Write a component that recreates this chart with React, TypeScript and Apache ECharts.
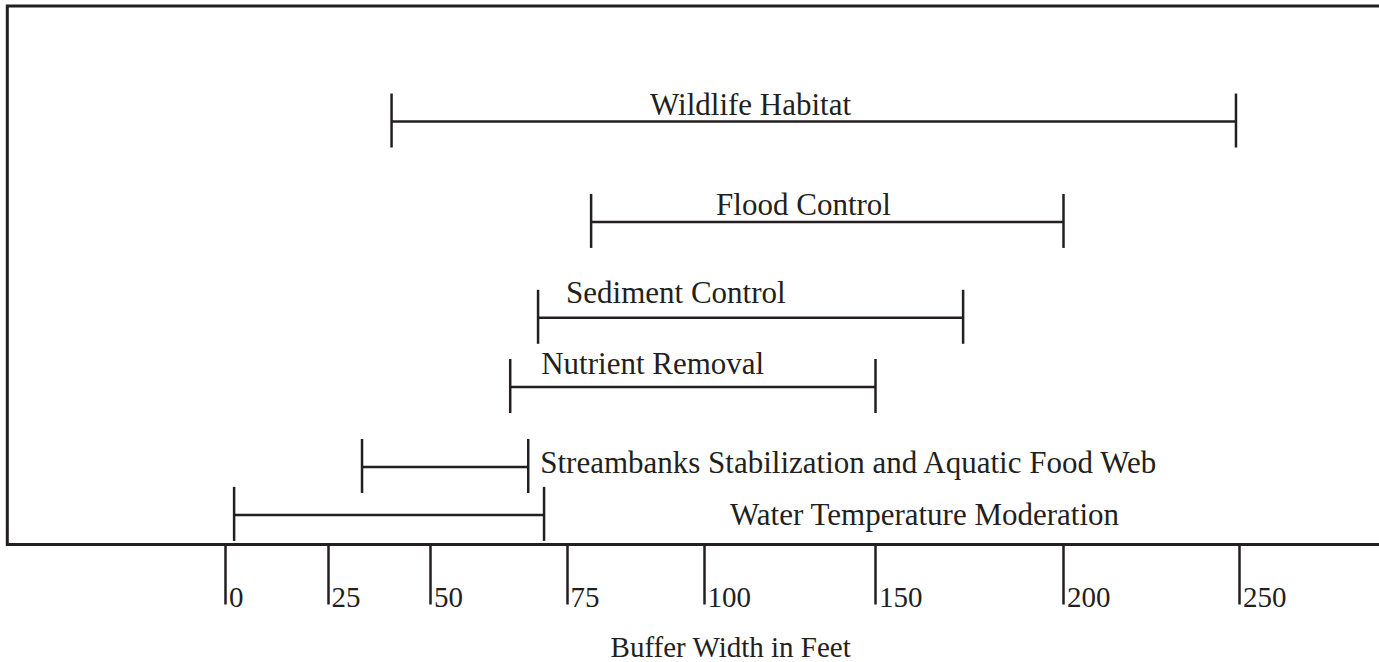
import React, { useEffect, useRef } from "react";
import * as echarts from "echarts";

// ---- data ----
const categories = [
  "Wildlife Habitat",
  "Flood Control",
  "Sediment Control",
  "Nutrient Removal",
  "Streambanks Stabilization and Aquatic Food Web",
  "Water Temperature Moderation",
];
const startFeet = [40.5, 79.4, 69.7, 64.6, 33.3, 2.1];
const endFeet = [249, 200, 173.3, 150, 67.9, 70.8];
// vertical lane of each range (0 = bottom of plot, 100 = top)
const lane = [78.55, 59.9, 42.1, 29.25, 14.4, 5.5];

const tickFeet = [0, 25, 50, 75, 100, 150, 200, 250];
const tickLabels = ["0", "25", "50", "75", "100", "150", "200", "250"];
// the printed scale is uneven: axis units of each tick
const tickSlot = [0, 102.5, 205, 341.5, 478.5, 650, 838, 1014];

// ---- layout / style config ----
const labelLayout = [
  { from: "start", dx: 258.5, dy: -17.5 },
  { from: "start", dx: 125, dy: -17 },
  { from: "start", dx: 28, dy: -25 },
  { from: "start", dx: 31, dy: -23 },
  { from: "end", dx: 12, dy: -4.5 },
  { from: "end", dx: 186, dy: -0.5 },
];
const INK = "#231f20";
const SERIF = "'Liberation Serif', 'DejaVu Serif', serif";

function warp(ft: number): number {
  const n = tickFeet.length;
  let i = 0;
  if (ft <= tickFeet[0]) i = 0;
  else if (ft >= tickFeet[n - 1]) i = n - 2;
  else {
    while (i < n - 2 && ft > tickFeet[i + 1]) i++;
  }
  const f0 = tickFeet[i], f1 = tickFeet[i + 1];
  const s0 = tickSlot[i], s1 = tickSlot[i + 1];
  return s0 + ((ft - f0) / (f1 - f0)) * (s1 - s0);
}

export default function App() {
  const ref = useRef<HTMLDivElement>(null);

  useEffect(() => {
    if (!ref.current) return;
    const chart = echarts.init(ref.current, undefined, { renderer: "svg" });

    const data = categories.map((c, i) => [
      warp(startFeet[i]),
      warp(endFeet[i]),
      lane[i],
      i,
    ]);

    const option: any = {
      animation: false,
      backgroundColor: "#ffffff",
      grid: {
        show: true,
        left: 7.3,
        top: 6,
        width: 1376.7,
        bottom: 117.5,
        outerBoundsMode: "none",
        containLabel: false,
        borderColor: INK,
        borderWidth: 3,
        backgroundColor: "transparent",
      },
      xAxis: {
        type: "value",
        min: -218.2,
        max: 1158.5,
        offset: 3,
        splitLine: { show: false },
        axisLine: { show: false },
        axisTick: {
          show: true,
          length: 60,
          customValues: tickFeet.map(warp),
          lineStyle: { color: INK, width: 2.5 },
        },
        axisLabel: {
          show: true,
          customValues: tickFeet.map(warp),
          formatter: (v: number) => {
            const k = tickSlot.findIndex((p) => Math.abs(p - v) < 0.01);
            return k >= 0 ? tickLabels[k] : "";
          },
          align: "left",
          verticalAlign: "top",
          margin: 35,
          padding: [0, 0, 0, 3.5],
          color: INK,
          fontFamily: SERIF,
          fontSize: 29,
        },
        name: "Buffer Width in Feet",
        nameLocation: "middle",
        nameGap: 85,
        nameTextStyle: {
          color: INK,
          fontFamily: SERIF,
          fontSize: 29,
          padding: [0, 0, 0, 70],
        },
      },
      yAxis: {
        type: "value",
        min: 0,
        max: 100,
        show: false,
      },
      series: [
        {
          type: "custom",
          clip: false,
          data,
          renderItem: (params: any, api: any) => {
            const s = api.coord([api.value(0), api.value(2)]);
            const e = api.coord([api.value(1), api.value(2)]);
            const idx = api.value(3);
            const y = s[1];
            const lay = labelLayout[idx];
            const ax = lay.from === "start" ? s[0] : e[0];
            const lineStyle = { stroke: INK, lineWidth: 2.5 };
            return {
              type: "group",
              children: [
                {
                  type: "line",
                  shape: { x1: s[0], y1: y, x2: e[0], y2: y },
                  style: lineStyle,
                },
                {
                  type: "line",
                  shape: { x1: s[0], y1: y - 28, x2: s[0], y2: y + 26 },
                  style: lineStyle,
                },
                {
                  type: "line",
                  shape: { x1: e[0], y1: y - 28, x2: e[0], y2: y + 26 },
                  style: lineStyle,
                },
                {
                  type: "text",
                  x: ax + lay.dx,
                  y: y + lay.dy,
                  style: {
                    text: categories[idx],
                    fill: INK,
                    fontFamily: SERIF,
                    fontSize: 31,
                    align: "left",
                    verticalAlign: "middle",
                    textAlign: "left",
                    textVerticalAlign: "middle",
                  },
                },
              ],
            };
          },
        },
      ],
    };

    chart.setOption(option);
    return () => chart.dispose();
  }, []);

  return (
    <div
      ref={ref}
      style={{
        position: "fixed",
        left: 0,
        top: 0,
        width: 1379,
        height: 662,
        background: "#ffffff",
      }}
    />
  );
}
